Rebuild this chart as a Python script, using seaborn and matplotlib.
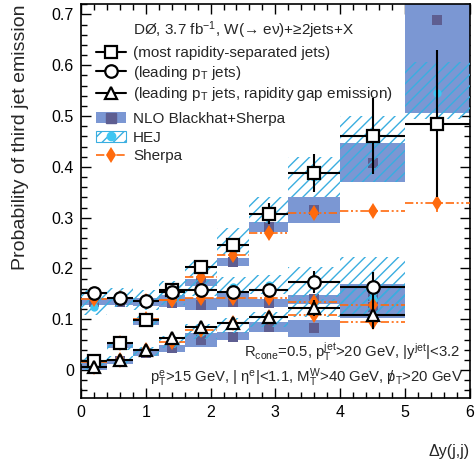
import numpy as np
import pandas as pd
import matplotlib
matplotlib.use("Agg")
import matplotlib.pyplot as plt
import seaborn as sns
from matplotlib.lines import Line2D
from matplotlib.patches import Patch
from matplotlib.ticker import MultipleLocator

# ---------------- data ----------------
bin_edges = [0.0, 0.4, 0.8, 1.2, 1.6, 2.1, 2.6, 3.2, 4.0, 5.0, 6.0]

# measured: most rapidity-separated jets (10 bins)
data_sep = [0.018, 0.053, 0.099, 0.157, 0.203, 0.247, 0.308, 0.388, 0.460, 0.485]
err_sep = [0.004, 0.005, 0.006, 0.007, 0.009, 0.012, 0.021, 0.038, 0.075, 0.145]
# measured: leading pT jets (9 bins)
data_lead = [0.151, 0.142, 0.137, 0.154, 0.158, 0.153, 0.157, 0.174, 0.163]
err_lead = [0.005, 0.005, 0.005, 0.006, 0.007, 0.008, 0.010, 0.022, 0.030]
# measured: leading pT jets, rapidity gap emission (9 bins)
data_gap = [0.006, 0.020, 0.039, 0.064, 0.085, 0.093, 0.105, 0.122, 0.108]
err_gap = [0.004, 0.004, 0.005, 0.006, 0.007, 0.008, 0.010, 0.016, 0.028]

# NLO Blackhat+Sherpa (central, low, high)
nlo_sep = [0.013, 0.050, 0.095, 0.140, 0.173, 0.212, 0.282, 0.315, 0.408, 0.688]
nlo_sep_lo = [0.009, 0.044, 0.088, 0.132, 0.166, 0.204, 0.272, 0.290, 0.370, 0.505]
nlo_sep_hi = [0.017, 0.056, 0.102, 0.148, 0.180, 0.220, 0.292, 0.340, 0.446, 0.870]
nlo_lead = [0.135, 0.135, 0.134, 0.132, 0.128, 0.134, 0.132, 0.140, 0.145]
nlo_lead_lo = [0.128, 0.128, 0.127, 0.124, 0.118, 0.124, 0.125, 0.130, 0.120]
nlo_lead_hi = [0.142, 0.142, 0.141, 0.140, 0.141, 0.151, 0.140, 0.147, 0.170]
nlo_gap = [0.003, 0.017, 0.033, 0.044, 0.060, 0.066, 0.085, 0.082, 0.124]
nlo_gap_lo = [0.000, 0.013, 0.028, 0.036, 0.046, 0.059, 0.075, 0.065, 0.102]
nlo_gap_hi = [0.007, 0.021, 0.038, 0.050, 0.073, 0.075, 0.094, 0.098, 0.146]

# HEJ (central, low, high)
hej_sep = [0.020, 0.050, 0.098, 0.155, 0.200, 0.242, 0.305, 0.380, 0.452, 0.545]
hej_sep_lo = [0.012, 0.040, 0.085, 0.135, 0.183, 0.226, 0.290, 0.340, 0.370, 0.495]
hej_sep_hi = [0.028, 0.060, 0.110, 0.175, 0.216, 0.279, 0.340, 0.420, 0.500, 0.606]
hej_lead = [0.124, 0.140, 0.138, 0.148, 0.160, 0.163, 0.168, 0.172, 0.154]
hej_lead_lo = [0.108, 0.124, 0.118, 0.128, 0.145, 0.148, 0.150, 0.144, 0.110]
hej_lead_hi = [0.157, 0.161, 0.157, 0.168, 0.178, 0.183, 0.188, 0.203, 0.223]
hej_gap = [0.005, 0.020, 0.037, 0.055, 0.075, 0.088, 0.100, 0.120, 0.139]
hej_gap_lo = [0.000, 0.012, 0.028, 0.043, 0.062, 0.073, 0.085, 0.105, 0.115]
hej_gap_hi = [0.012, 0.028, 0.046, 0.068, 0.090, 0.102, 0.115, 0.140, 0.165]

# Sherpa
sherpa_sep = [0.016, 0.053, 0.100, 0.138, 0.183, 0.226, 0.269, 0.309, 0.313, 0.328]
sherpa_sep_err = [0.003, 0.004, 0.004, 0.005, 0.006, 0.007, 0.008, 0.010, 0.010, 0.016]
sherpa_lead = [0.140, 0.141, 0.136, 0.138, 0.141, 0.141, 0.141, 0.134, 0.128]
sherpa_lead_err = [0.004, 0.004, 0.004, 0.005, 0.005, 0.006, 0.006, 0.008, 0.010]
sherpa_gap = [0.007, 0.020, 0.040, 0.056, 0.078, 0.092, 0.105, 0.108, 0.095]
sherpa_gap_err = [0.003, 0.003, 0.004, 0.004, 0.005, 0.006, 0.006, 0.008, 0.010]

# ---------------- style ----------------
sns.set_style("ticks")
plt.rcParams['font.family'] = ['Liberation Sans', 'DejaVu Sans']
plt.rcParams['mathtext.fontset'] = 'custom'
plt.rcParams['mathtext.rm'] = 'Liberation Sans'
plt.rcParams['mathtext.it'] = 'Liberation Sans:italic'
plt.rcParams['mathtext.bf'] = 'Liberation Sans:bold'
plt.rcParams['mathtext.default'] = 'regular'
plt.rcParams['hatch.linewidth'] = 1.0

NLO_C = '#7b97d3'
NLO_M = '#5e5e91'
HEJ_H = '#3aaee0'
HEJ_M = '#3fc6f2'
SH_C = '#ff6a0d'
SH_LS = (0, (5, 1.6, 1.2, 1.6, 1.2, 1.6))
FS = 11

fig = plt.figure(figsize=(4.76, 4.70), dpi=100)
ax = fig.add_axes([0.170, 0.153, 0.817, 0.838])

edges = np.array(bin_edges)
lefts = edges[:-1]
widths = np.diff(edges)
centers = lefts + widths / 2
xerr = widths / 2


def draw_series(n, data, err, nlo, nlo_lo, nlo_hi, hej, hej_lo, hej_hi, sh, sh_err, marker):
    l = lefts[:n]; w = widths[:n]; c = centers[:n]
    nlo_lo = np.array(nlo_lo); nlo_hi = np.array(nlo_hi)
    hej_lo = np.array(hej_lo); hej_hi = np.array(hej_hi)
    ax.bar(l, nlo_hi - nlo_lo, bottom=nlo_lo, width=w, align='edge', color=NLO_C,
           linewidth=0, zorder=1)
    sns.scatterplot(x=c, y=nlo, ax=ax, marker='s', s=48, color=NLO_M, linewidth=0,
                    zorder=2, legend=False)
    ax.bar(l, hej_hi - hej_lo, bottom=hej_lo, width=w, align='edge', fill=False,
           hatch='///', edgecolor=HEJ_H, linewidth=0, zorder=3)
    sns.scatterplot(x=c, y=hej, ax=ax, marker='o', s=36, color=HEJ_M, linewidth=0,
                    zorder=4, legend=False)
    ax.hlines(sh, l, l + w, colors=SH_C, linestyles=[SH_LS], linewidth=1.2, zorder=5)
    ax.errorbar(c, sh, yerr=sh_err, fmt='d', color=SH_C, ms=8.5, mew=0,
                elinewidth=1.2, capsize=0, zorder=5)
    ax.errorbar(c, data, xerr=xerr[:n], yerr=err, fmt=marker, color='black', mfc='white',
                mec='black', ms=9, mew=1.6, elinewidth=1.5, capsize=0, zorder=6)


draw_series(10, data_sep, err_sep, nlo_sep, nlo_sep_lo, nlo_sep_hi,
            hej_sep, hej_sep_lo, hej_sep_hi, sherpa_sep, sherpa_sep_err, 's')
draw_series(9, data_lead, err_lead, nlo_lead, nlo_lead_lo, nlo_lead_hi,
            hej_lead, hej_lead_lo, hej_lead_hi, sherpa_lead, sherpa_lead_err, 'o')
draw_series(9, data_gap, err_gap, nlo_gap, nlo_gap_lo, nlo_gap_hi,
            hej_gap, hej_gap_lo, hej_gap_hi, sherpa_gap, sherpa_gap_err, '^')

ax.set_xlim(0, 6)
ax.set_ylim(-0.055, 0.72)
ax.xaxis.set_major_locator(MultipleLocator(1))
ax.xaxis.set_minor_locator(MultipleLocator(0.2))
ax.yaxis.set_minor_locator(MultipleLocator(0.02))
ax.set_yticks([0, 0.1, 0.2, 0.3, 0.4, 0.5, 0.6, 0.7])
ax.set_yticklabels(['0', '0.1', '0.2', '0.3', '0.4', '0.5', '0.6', '0.7'])
ax.tick_params(which='both', direction='in', top=True, right=True, width=1.0,
               labelsize=11.5, colors='black')
ax.tick_params(which='major', length=7, pad=5)
ax.tick_params(which='minor', length=4)
for s in ax.spines.values():
    s.set_linewidth(1.2)
    s.set_color('black')

ax.set_xlabel('Δy(j,j)', fontsize=11.5, loc='right', labelpad=17)
ax.set_ylabel('Probability of third jet emission', fontsize=14, loc='top', labelpad=16)

# legends
data_handles = [
    Line2D([], [], color='black', lw=1.5, marker='s', ms=9, mfc='white', mec='black', mew=1.6),
    Line2D([], [], color='black', lw=1.5, marker='o', ms=9, mfc='white', mec='black', mew=1.6),
    Line2D([], [], color='black', lw=1.5, marker='^', ms=9, mfc='white', mec='black', mew=1.6),
]
data_labels = ['(most rapidity-separated jets)',
               '(leading p$_{T}$ jets)',
               '(leading p$_{T}$ jets, rapidity gap emission)']
leg1 = ax.legend(data_handles, data_labels, loc='upper left', bbox_to_anchor=(0.040, 0.894),
                 frameon=False, fontsize=FS, handlelength=1.95, handletextpad=0.45,
                 borderaxespad=0, borderpad=0, labelspacing=0.24)
ax.add_artist(leg1)

th_handles = [
    (Patch(facecolor=NLO_C, edgecolor='none'),
     Line2D([], [], ls='none', marker='s', ms=7, color=NLO_M)),
    (Patch(facecolor='white', edgecolor=HEJ_H, hatch='///', linewidth=0.8),
     Line2D([], [], ls='none', marker='o', ms=6, color=HEJ_M)),
    Line2D([], [], color=SH_C, ls=SH_LS, lw=1.2, marker='d', ms=8.5, mew=0),
]
th_labels = ['NLO Blackhat+Sherpa', 'HEJ', 'Sherpa']
ax.legend(th_handles, th_labels, loc='upper left', bbox_to_anchor=(0.040, 0.726),
          frameon=False, fontsize=FS, handlelength=1.95, handletextpad=0.45,
          borderaxespad=0, borderpad=0, labelspacing=0.3)

ax.text(0.134, 0.934, 'DØ, 3.7 fb$^{-1}$, W(→ eν)+≥2jets+X', transform=ax.transAxes,
        fontsize=FS, ha='left', va='center')
ax.text(0.975, 0.117, 'R$_{cone}$=0.5, p$_{T}^{jet}$>20 GeV, |y$^{jet}$|<3.2',
        transform=ax.transAxes, fontsize=10.7, ha='right', va='center')
ax.text(0.982, 0.053,
        'p$_{T}^{e}$>15 GeV, | η$^{e}$|<1.1, M$_{T}^{W}$>40 GeV, $\\,/\\!\\!\\!p_{T}$>20 GeV',
        transform=ax.transAxes, fontsize=10.7, ha='right', va='center')

fig.savefig('out.png', dpi=100)
